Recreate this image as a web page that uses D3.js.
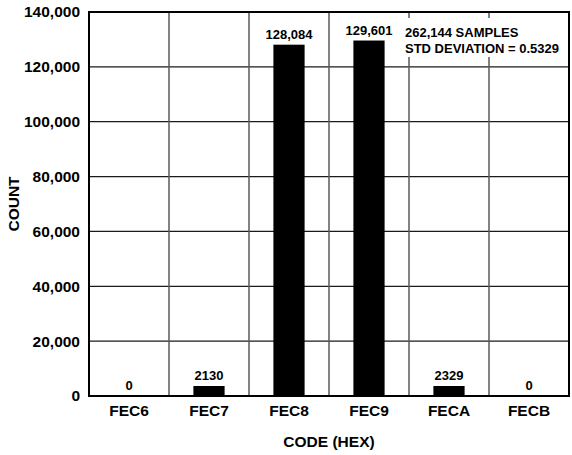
<!DOCTYPE html>
<html>
<head>
<meta charset="utf-8">
<script src="https://cdn.jsdelivr.net/npm/d3@7"></script>
<style>
  body { margin: 0; background: #fff; }
  svg text { font-family: "Liberation Sans", Arial, sans-serif; font-weight: bold; fill: #000; }
</style>
</head>
<body>
<div id="chart"></div>
<script>
// data
var codes  = ["FEC6", "FEC7", "FEC8", "FEC9", "FECA", "FECB"];
var counts = [0, 2130, 128084, 129601, 2329, 0];
var countLabels = ["0", "2130", "128,084", "129,601", "2329", "0"];
var yTicks = [0, 20000, 40000, 60000, 80000, 100000, 120000, 140000];
var noteLines = ["262,144 SAMPLES", "STD DEVIATION = 0.5329"];

var margin = {top: 12, right: 3, bottom: 59, left: 89},
    fullWidth = 572,
    fullHeight = 455,
    width  = fullWidth - margin.left - margin.right,
    height = fullHeight - margin.top - margin.bottom;

var svg = d3.select("#chart")
    .append("svg")
    .attr("width", fullWidth)
    .attr("height", fullHeight)
    .append("g")
    .attr("transform", "translate(" + margin.left + "," + margin.top + ")");

var xScale = d3.scaleBand()
    .domain(codes)
    .range([0, width])
    .padding(0);

var yScale = d3.scaleLinear()
    .domain([0, 140000])
    .range([height, 0]);

var barW = xScale.bandwidth() * 0.39;
var minBar = 10; // small non-zero counts drawn as a visible stub

// horizontal grid
svg.selectAll(".hgrid")
    .data(yTicks.slice(1, -1))
    .enter().append("line")
    .attr("class", "hgrid")
    .attr("x1", 0).attr("x2", width)
    .attr("y1", function(d) { return yScale(d); })
    .attr("y2", function(d) { return yScale(d); })
    .attr("stroke", "#1a1a1a")
    .attr("stroke-width", 1.2);

// vertical grid at category boundaries
svg.selectAll(".vgrid")
    .data(codes.slice(1))
    .enter().append("line")
    .attr("class", "vgrid")
    .attr("x1", function(d) { return xScale(d); })
    .attr("x2", function(d) { return xScale(d); })
    .attr("y1", 0).attr("y2", height)
    .attr("stroke", "#5a5a5a")
    .attr("stroke-width", 1.5);

// bars
svg.selectAll(".bar")
    .data(counts)
    .enter().append("rect")
    .attr("class", "bar")
    .attr("x", function(d, i) { return xScale(codes[i]) + (xScale.bandwidth() - barW) / 2; })
    .attr("width", barW)
    .attr("y", function(d) { return d > 0 ? Math.min(yScale(d), height - minBar) : height; })
    .attr("height", function(d) { return d > 0 ? Math.max(height - yScale(d), minBar) : 0; })
    .attr("fill", "#000");

// value labels
svg.selectAll(".vlabel")
    .data(counts)
    .enter().append("text")
    .attr("class", "vlabel")
    .attr("x", function(d, i) { return xScale(codes[i]) + xScale.bandwidth() / 2; })
    .attr("y", function(d) {
        var top = d > 0 ? Math.min(yScale(d), height - minBar) : height;
        return top - 6;
    })
    .attr("text-anchor", "middle")
    .style("font-size", "13px")
    .text(function(d, i) { return countLabels[i]; });

// annotation box
var note = svg.append("g")
    .attr("transform", "translate(" + (xScale("FECA") - 6) + ",6)");
note.append("rect")
    .attr("width", 164).attr("height", 39)
    .attr("fill", "#fff");
note.selectAll("text")
    .data(noteLines)
    .enter().append("text")
    .attr("x", 2)
    .attr("y", function(d, i) { return 19 + i * 16; })
    .style("font-size", "13px")
    .text(function(d) { return d; });

// axes
var yAxis = svg.append("g")
    .call(d3.axisLeft(yScale)
        .tickValues(yTicks)
        .tickSize(0)
        .tickPadding(9)
        .tickFormat(d3.format(",")));
yAxis.select(".domain").remove();
yAxis.selectAll("text").style("font-size", "15.5px");

var xAxis = svg.append("g")
    .attr("transform", "translate(0," + height + ")")
    .call(d3.axisBottom(xScale).tickSize(0).tickPadding(9));
xAxis.select(".domain").remove();
xAxis.selectAll("text").style("font-size", "15.5px");

// frame
svg.append("rect")
    .attr("width", width).attr("height", height)
    .attr("fill", "none")
    .attr("stroke", "#000")
    .attr("stroke-width", 2);

// axis titles
svg.append("text")
    .attr("x", width / 2)
    .attr("y", height + 51)
    .attr("text-anchor", "middle")
    .style("font-size", "15.5px")
    .text("CODE (HEX)");

svg.append("text")
    .attr("transform", "translate(" + (-70) + "," + (height / 2) + ") rotate(-90)")
    .attr("text-anchor", "middle")
    .style("font-size", "15.5px")
    .text("COUNT");
</script>
</body>
</html>
